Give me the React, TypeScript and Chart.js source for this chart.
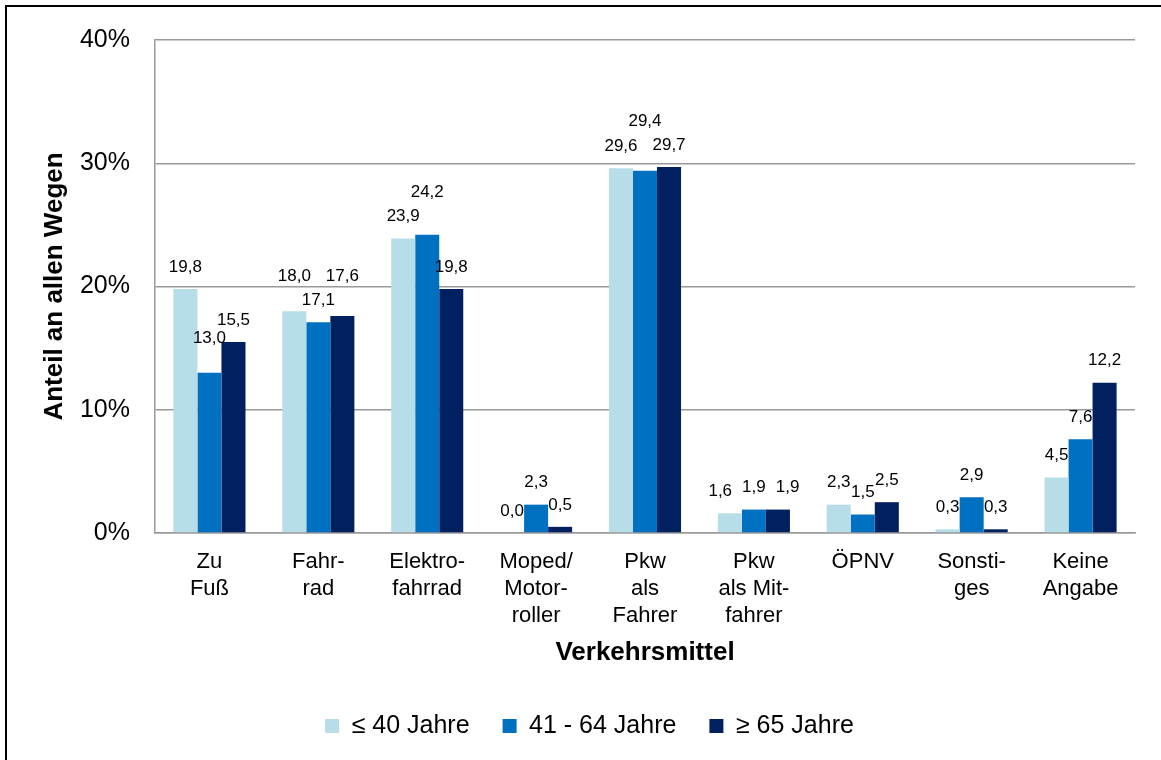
import React, { useEffect, useRef } from 'react';
import { Chart, registerables } from 'chart.js';

Chart.register(...registerables);

// ---- data ----
const categories: string[][] = [
  ['Zu', 'Fuß'],
  ['Fahr-', 'rad'],
  ['Elektro-', 'fahrrad'],
  ['Moped/', 'Motor-', 'roller'],
  ['Pkw', 'als', 'Fahrer'],
  ['Pkw', 'als Mit-', 'fahrer'],
  ['ÖPNV'],
  ['Sonsti-', 'ges'],
  ['Keine', 'Angabe'],
];
const seriesNames = ['≤ 40 Jahre', '41 - 64 Jahre', '≥ 65 Jahre'];
const under40 = [19.8, 18.0, 23.9, 0.0, 29.6, 1.6, 2.3, 0.3, 4.5];
const age41to64 = [13.0, 17.1, 24.2, 2.3, 29.4, 1.9, 1.5, 2.9, 7.6];
const over65 = [15.5, 17.6, 19.8, 0.5, 29.7, 1.9, 2.5, 0.3, 12.2];
const yTicks = [0, 10, 20, 30, 40];
const yTitle = 'Anteil an allen Wegen';
const xTitle = 'Verkehrsmittel';

// ---- style ----
const FONT = '"Liberation Sans", Arial, Helvetica, sans-serif';
const COLORS = ['#B7DDE8', '#0070C0', '#002060'];
const GRID = '#999999';

const fmt = (v: number) => v.toFixed(1).replace('.', ',');

// Data labels placed "outside end" with a simple collision avoidance
const barLabelPlugin = {
  id: 'barLabels',
  afterDatasetsDraw(chart: any) {
    const ctx = chart.ctx as CanvasRenderingContext2D;
    ctx.save();
    ctx.font = `17px ${FONT}`;
    ctx.fillStyle = '#000';
    ctx.textAlign = 'center';
    ctx.textBaseline = 'middle';
    const GAP = 22;
    const H = 19;
    const STEP = 24;
    const n = chart.data.labels.length;
    for (let i = 0; i < n; i++) {
      const items = chart.data.datasets.map((ds: any, d: number) => {
        const el = chart.getDatasetMeta(d).data[i];
        const v = ds.data[i] as number;
        const text = fmt(v);
        const w = ctx.measureText(text).width;
        return {
          x: el.x,
          y: el.y - GAP,
          w,
          text,
          v,
          top: el.y,
          left: el.x - el.width / 2,
          right: el.x + el.width / 2,
        };
      });
      const [a, m, b] = items;
      const hit = (p: any, q: any) =>
        Math.abs(p.x - q.x) < (p.w + q.w) / 2 && Math.abs(p.y - q.y) < H;
      const hitA = hit(a, m);
      const hitB = hit(m, b);
      if (hitA || hitB) {
        const lowerMid = m.v < a.v - 0.3 && m.v < b.v - 0.3;
        if (lowerMid) {
          if (hitA) a.y = m.y - STEP;
          if (hitB) b.y = m.y - STEP;
        } else {
          const ys = [hitA ? a.y : Infinity, hitB ? b.y : Infinity];
          m.y = Math.min(...ys) - STEP;
        }
      }
      // keep a label off the taller bar to its right
      items.forEach((it: any, k: number) => {
        const nb = items[k + 1];
        if (!nb) return;
        const l = it.x - it.w / 2;
        const r = it.x + it.w / 2;
        const ov = Math.min(r, nb.right) - Math.max(l, nb.left);
        if (ov > 2 && it.y + 8 > nb.top) it.y = nb.top - 4;
      });
      // spread labels sitting side by side at the same height
      const MINGAP = 10;
      const pushOut = (p: any, q: any, moveP: boolean) => {
        if (Math.abs(p.y - q.y) >= 8) return;
        const gap = Math.abs(p.x - q.x) - (p.w + q.w) / 2;
        if (gap < MINGAP) {
          const need = MINGAP - gap;
          if (moveP) p.x -= need;
          else q.x += need;
        }
      };
      pushOut(a, m, true);
      pushOut(m, b, false);
      items.forEach((it: any) => ctx.fillText(it.text, it.x, it.y));
    }
    ctx.restore();
  },
};

export default function App() {
  const ref = useRef<HTMLCanvasElement | null>(null);

  useEffect(() => {
    if (!ref.current) return;
    Chart.defaults.color = '#000';
    Chart.defaults.font.family = FONT;
    const seriesData = [under40, age41to64, over65];
    const chart = new Chart(ref.current, {
      type: 'bar',
      data: {
        labels: categories,
        datasets: seriesNames.map((name, k) => ({
          label: name,
          data: seriesData[k],
          backgroundColor: COLORS[k],
          borderWidth: 0,
          categoryPercentage: 0.662,
          barPercentage: 1.0,
        })),
      },
      options: {
        animation: false,
        responsive: false,
        maintainAspectRatio: false,
        layout: { padding: { left: 44, right: 26, top: 37, bottom: 11.5 } },
        plugins: {
          legend: {
            position: 'bottom',
            labels: {
              boxWidth: 14,
              boxHeight: 14,
              padding: 33,
              color: '#000',
              font: { size: 25, family: FONT },
            },
          },
          tooltip: { enabled: false },
        },
        scales: {
          x: {
            grid: { display: false, drawTicks: false },
            border: { display: true, color: GRID, width: 1.5 },
            ticks: {
              padding: 15.5,
              color: '#000',
              maxRotation: 0,
              autoSkip: false,
              font: { size: 22, family: FONT, lineHeight: 1.23 },
            },
            title: {
              display: true,
              text: xTitle,
              color: '#000',
              font: { size: 26, weight: 'bold', family: FONT },
              padding: { top: 0, bottom: 12 },
            },
            afterFit: (s: any) => {
              s.height = 147.5;
            },
          },
          y: {
            min: 0,
            max: 40,
            afterBuildTicks: (s: any) => {
              s.ticks = yTicks.map((v) => ({ value: v }));
            },
            grid: { color: GRID, lineWidth: 1.5, drawTicks: false },
            border: { display: true, color: GRID, width: 1.5 },
            ticks: {
              padding: 25,
              color: '#000',
              font: { size: 25, family: FONT },
              callback: (v: any) => `${v}%`,
            },
            title: {
              display: true,
              text: yTitle,
              color: '#000',
              font: { size: 26, weight: 'bold', family: FONT },
              padding: { top: -4.6, bottom: 0 },
            },
            afterFit: (s: any) => {
              s.width = 111;
            },
          },
        },
      } as any,
      plugins: [barLabelPlugin],
    });
    return () => chart.destroy();
  }, []);

  return (
    <div
      style={{
        position: 'absolute',
        left: 0,
        top: 0,
        width: 1161,
        height: 760,
        overflow: 'hidden',
        background: '#fff',
      }}
    >
      <div
        style={{
          position: 'absolute',
          left: 5,
          top: 5,
          width: 1156,
          height: 755,
          borderLeft: '2px solid #000',
          borderTop: '2px solid #000',
          boxSizing: 'border-box',
        }}
      />
      <canvas
        ref={ref}
        width={1161}
        height={760}
        style={{ position: 'absolute', left: 0, top: 0, width: 1161, height: 760 }}
      />
    </div>
  );
}
